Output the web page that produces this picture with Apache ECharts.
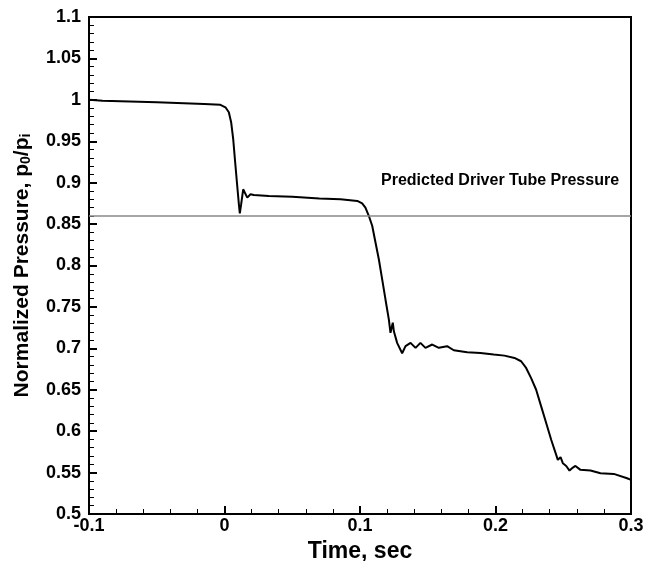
<!DOCTYPE html>
<html>
<head>
<meta charset="utf-8">
<script src="https://cdn.jsdelivr.net/npm/echarts@6/dist/echarts.min.js"></script>
<style>
  html, body { margin: 0; padding: 0; background: #fff; }
  #chart { width: 647px; height: 561px; }
</style>
</head>
<body>
<div id="chart"></div>
<script>
// time (s) and normalized pressure
var time = [-0.1, -0.09, -0.07, -0.05, -0.03, -0.015, -0.003, 0.0007, 0.0032, 0.0049, 0.0064, 0.0079, 0.0094,
  0.0106, 0.0113, 0.0123, 0.0138, 0.015, 0.0168, 0.0192, 0.0216, 0.0327, 0.05, 0.07, 0.0856, 0.098, 0.1016,
  0.104, 0.1065, 0.109, 0.1114, 0.1139, 0.1164, 0.1188, 0.1213, 0.1225, 0.1242, 0.125, 0.1274, 0.1311,
  0.1336, 0.1373, 0.141, 0.1446, 0.1483, 0.1533, 0.1582, 0.1643, 0.1692, 0.1791, 0.1889, 0.1987, 0.2066,
  0.214, 0.2189, 0.2226, 0.2263, 0.23, 0.2337, 0.2374, 0.2411, 0.2448, 0.246, 0.248, 0.2497, 0.2522,
  0.2546, 0.2571, 0.259, 0.2627, 0.2701, 0.2775, 0.2873, 0.2971, 0.3];
var pressure = [1.0, 0.999, 0.998, 0.997, 0.996, 0.995, 0.994, 0.991, 0.985, 0.973, 0.953, 0.924, 0.896,
  0.874, 0.863, 0.874, 0.892, 0.894, 0.882, 0.886, 0.885, 0.884, 0.883, 0.881, 0.880, 0.878, 0.875,
  0.870, 0.860, 0.848, 0.828, 0.8075, 0.783, 0.759, 0.7347, 0.7187, 0.731, 0.7206, 0.7066, 0.694,
  0.7026, 0.7066, 0.7006, 0.7066, 0.7006, 0.7046, 0.7006, 0.7026, 0.6977, 0.6953, 0.6945, 0.6925, 0.6912,
  0.6884, 0.6844, 0.6763, 0.664, 0.650, 0.6299, 0.6098, 0.5896, 0.5714, 0.5654, 0.5686, 0.5613, 0.558,
  0.5524, 0.556, 0.558, 0.5533, 0.5525, 0.5492, 0.5484, 0.5432, 0.5412];
var predictedPressure = 0.86;
var predictedLabel = 'Predicted Driver Tube Pressure';

var chart = echarts.init(document.getElementById('chart'));
var font = 'Liberation Sans, Arial, sans-serif';

chart.setOption({
  animation: false,
  grid: {
    left: 89, right: 16, top: 17, bottom: 47,
    outerBoundsMode: 'none',
    show: true, borderColor: '#000', borderWidth: 2
  },
  xAxis: {
    type: 'value',
    min: -0.1, max: 0.3, interval: 0.1,
    name: 'Time, sec',
    nameLocation: 'middle',
    nameGap: 23,
    nameTextStyle: { fontFamily: font, fontWeight: 'bold', fontSize: 23, color: '#000' },
    axisLine: { onZero: false, lineStyle: { color: '#000', width: 2 } },
    axisTick: { inside: true, length: 8, lineStyle: { color: '#000', width: 2 } },
    minorTick: { show: true, splitNumber: 5, length: 5, lineStyle: { color: '#000', width: 1 } },
    axisLabel: { fontFamily: font, fontWeight: 'bold', fontSize: 18, color: '#000', margin: 3 },
    splitLine: { show: false }
  },
  yAxis: {
    type: 'value',
    min: 0.5, max: 1.1, interval: 0.05,
    name: '{a|Normalized Pressure, p}{s|0}{a|/p}{s|i}',
    nameLocation: 'middle',
    nameGap: 56,
    nameTextStyle: {
      rich: {
        a: { fontFamily: font, fontWeight: 'bold', fontSize: 21, color: '#000', lineHeight: 26, verticalAlign: 'bottom' },
        s: { fontFamily: font, fontWeight: 'bold', fontSize: 14, color: '#000', lineHeight: 26, verticalAlign: 'bottom', padding: [6, 0, 0, 0] }
      }
    },
    axisLine: { onZero: false, lineStyle: { color: '#000', width: 2 } },
    axisTick: { inside: true, length: 8, lineStyle: { color: '#000', width: 2 } },
    minorTick: { show: true, splitNumber: 5, length: 5, lineStyle: { color: '#000', width: 1 } },
    axisLabel: { fontFamily: font, fontWeight: 'bold', fontSize: 18, color: '#000', margin: 8 },
    splitLine: { show: false }
  },
  graphic: [{
    type: 'text',
    left: 381, top: 173,
    style: { text: predictedLabel, fontFamily: font, fontWeight: 'bold', fontSize: 16, fill: '#000' }
  }],
  series: [{
    type: 'line',
    data: time.map(function (t, i) { return [t, pressure[i]]; }),
    showSymbol: false,
    smooth: false,
    lineStyle: { color: '#000', width: 2 },
    markLine: {
      silent: true,
      symbol: 'none',
      label: { show: false },
      lineStyle: { color: '#888', width: 1.5, type: 'solid' },
      data: [{ yAxis: predictedPressure }]
    }
  }]
});
</script>
</body>
</html>
